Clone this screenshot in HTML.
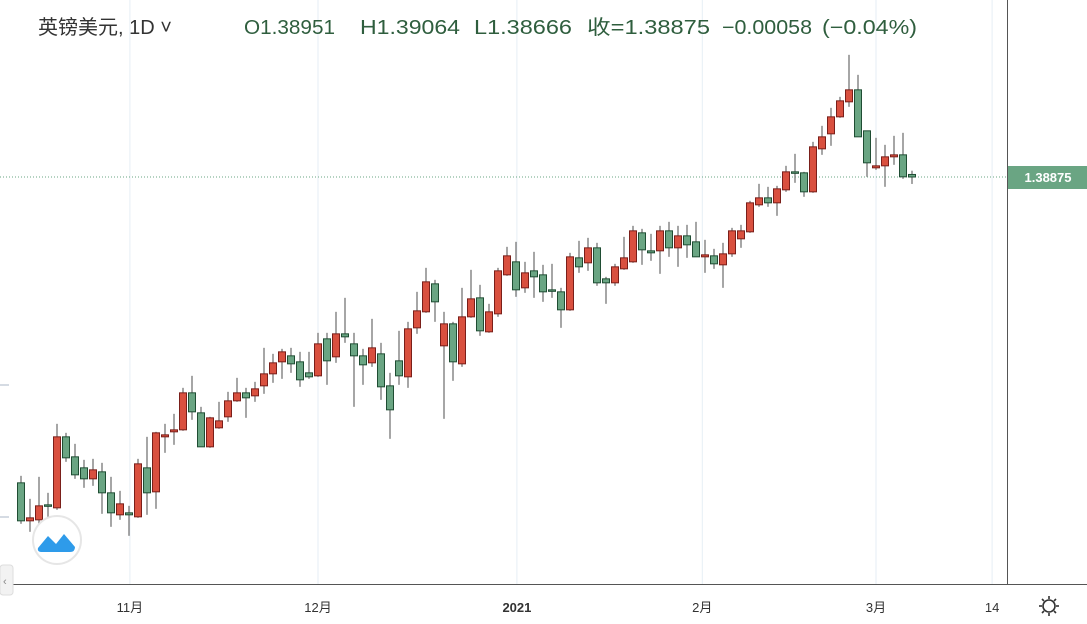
<!DOCTYPE html>
<html><head><meta charset="utf-8"><style>
body{margin:0;background:#fff;font-family:"Liberation Sans","Noto Sans CJK SC",sans-serif;}
#wrap{position:relative;width:1087px;height:624px;overflow:hidden}
svg text{font-family:"Liberation Sans","Noto Sans CJK SC",sans-serif}
</style></head><body>
<div id="wrap">
<svg id="chart" width="1087" height="624"></svg>
</div>
<script>
const opens=[1.2970,1.2856,1.2859,1.2904,1.2895,1.3108,1.3048,1.3015,1.2982,1.3003,1.2940,1.2874,1.2880,1.2868,1.3015,1.2943,1.3108,1.3123,1.3129,1.3240,1.3180,1.3078,1.3135,1.3168,1.3216,1.3240,1.3231,1.3261,1.3297,1.3333,1.3351,1.3333,1.3300,1.3291,1.3402,1.3348,1.3417,1.3387,1.3351,1.3330,1.3357,1.3261,1.3336,1.3288,1.3435,1.3483,1.3567,1.3381,1.3447,1.3327,1.3468,1.3525,1.3423,1.3477,1.3594,1.3633,1.3555,1.3606,1.3594,1.3549,1.3543,1.3489,1.3645,1.3630,1.3675,1.3582,1.3570,1.3612,1.3633,1.3720,1.3666,1.3666,1.3726,1.3675,1.3711,1.3693,1.3648,1.3651,1.3624,1.3657,1.3702,1.3723,1.3804,1.3825,1.3810,1.3849,1.3903,1.3900,1.3843,1.3972,1.4017,1.4068,1.4113,1.4149,1.4026,1.3915,1.3921,1.3948,1.3954,1.38951];
const highs=[1.2991,1.2922,1.2988,1.2940,1.3147,1.3120,1.3087,1.3039,1.3042,1.3030,1.2988,1.2946,1.2901,1.3042,1.3108,1.3123,1.3147,1.3177,1.3255,1.3291,1.3198,1.3168,1.3213,1.3243,1.3285,1.3255,1.3273,1.3375,1.3357,1.3372,1.3375,1.3363,1.3363,1.3420,1.3420,1.3483,1.3525,1.3420,1.3372,1.3462,1.3390,1.3300,1.3426,1.3453,1.3543,1.3615,1.3579,1.3483,1.3453,1.3555,1.3609,1.3564,1.3507,1.3615,1.3678,1.3693,1.3633,1.3663,1.3624,1.3627,1.3555,1.3660,1.3696,1.3705,1.3690,1.3588,1.3627,1.3708,1.3741,1.3732,1.3717,1.3741,1.3753,1.3741,1.3744,1.3753,1.3699,1.3672,1.3690,1.3735,1.3744,1.3816,1.3867,1.3858,1.3861,1.3921,1.3957,1.3903,1.3993,1.4041,1.4095,1.4128,1.4254,1.4194,1.4026,1.4005,1.3984,1.4011,1.4020,1.39064];
const lows=[1.2847,1.2823,1.2844,1.2868,1.2889,1.3033,1.2982,1.2955,1.2961,1.2877,1.2838,1.2859,1.2811,1.2865,1.2874,1.2892,1.3060,1.3084,1.3126,1.3159,1.3078,1.3075,1.3132,1.3153,1.3213,1.3165,1.3213,1.3237,1.3270,1.3282,1.3300,1.3258,1.3282,1.3288,1.3264,1.3330,1.3390,1.3198,1.3264,1.3318,1.3219,1.3102,1.3264,1.3255,1.3417,1.3480,1.3453,1.3162,1.3276,1.3318,1.3465,1.3411,1.3420,1.3468,1.3591,1.3528,1.3540,1.3525,1.3513,1.3525,1.3435,1.3486,1.3600,1.3606,1.3561,1.3507,1.3561,1.3609,1.3630,1.3624,1.3636,1.3597,1.3648,1.3618,1.3645,1.3648,1.3600,1.3612,1.3555,1.3648,1.3675,1.3720,1.3798,1.3798,1.3771,1.3843,1.3870,1.3828,1.3840,1.3954,1.3981,1.4065,1.4098,1.4008,1.3888,1.3909,1.3858,1.3924,1.3882,1.38666];
const closes=[1.2856,1.2865,1.2901,1.2901,1.3108,1.3045,1.2994,1.2982,1.3009,1.2940,1.2880,1.2907,1.2874,1.3027,1.2940,1.3120,1.3114,1.3129,1.3240,1.3183,1.3078,1.3165,1.3156,1.3216,1.3240,1.3225,1.3252,1.3297,1.3330,1.3363,1.3327,1.3279,1.3288,1.3387,1.3336,1.3417,1.3408,1.3351,1.3324,1.3375,1.3258,1.3189,1.3291,1.3432,1.3486,1.3573,1.3513,1.3447,1.3333,1.3468,1.3522,1.3426,1.3483,1.3606,1.3651,1.3549,1.3600,1.3588,1.3543,1.3546,1.3489,1.3648,1.3618,1.3675,1.3570,1.3570,1.3618,1.3645,1.3726,1.3669,1.3660,1.3726,1.3675,1.3711,1.3684,1.3648,1.3654,1.3627,1.3657,1.3726,1.3726,1.3810,1.3825,1.3810,1.3852,1.3903,1.3900,1.3843,1.3978,1.4008,1.4068,1.4116,1.4149,1.4008,1.3930,1.3921,1.3948,1.3954,1.3888,1.38875];
const xLabels=["11月","12月","2021","2月","3月","14"];
const xLabelIdx=[12.1,33,55.1,75.7,95,107.9];
const lastPrice="1.38875";

const NS="http://www.w3.org/2000/svg";
const svg=document.getElementById('chart');
const X0=21,STEP=9;
const xs=i=>X0+STEP*i;
const ys=p=>(1.44185-p)/0.0003;
function mk(tag,attrs,parent){const e=document.createElementNS(NS,tag);for(const k in attrs)e.setAttribute(k,attrs[k]);(parent||svg).appendChild(e);return e;}

const grid=mk('g',{});


xLabelIdx.forEach((v,i)=>{const l=mk('line',{x1:xs(v),x2:xs(v),y1:0,y2:584,stroke:'#e6eef5','stroke-width':1},grid);

});
[385,517].forEach(y=>{const t=mk('line',{x1:0,x2:9,y1:y,y2:y,stroke:'#d5dbe3','stroke-width':2});

});

const pl=mk('line',{x1:0,x2:1007,y1:ys(closes[closes.length-1]),y2:ys(closes[closes.length-1]),stroke:'#6aa583','stroke-width':1,'stroke-dasharray':'1,2'});



const cg=mk('g',{});


opens.forEach((o,i)=>{
  const c=closes[i],up=c>=o;const x=xs(i);
  const g=mk('g',{},cg);
  
  
  mk('line',{x1:x,x2:x,y1:ys(highs[i]),y2:ys(lows[i]),stroke:'#777','stroke-width':1.3},g);
  const top=ys(Math.max(o,c)),bot=ys(Math.min(o,c));
  mk('rect',{x:x-3.5,y:top,width:7,height:Math.max(1.5,bot-top),fill:up?'#d9503f':'#6aa583',stroke:up?'#7a1f1a':'#1f4d33','stroke-width':1},g);
});

const ax=mk('g',{});


mk('line',{x1:0,x2:1087,y1:584.5,y2:584.5,stroke:'#555','stroke-width':1},ax);
xLabels.forEach((t,i)=>{const tx=mk('text',{x:xs(xLabelIdx[i]),y:612,'text-anchor':'middle','font-size':13,fill:'#333','font-weight':t==='2021'?'bold':'normal'},ax);tx.textContent=t;

});
const yax=mk('line',{x1:1007.5,x2:1007.5,y1:0,y2:584,stroke:'#555','stroke-width':1});



const pg=mk('g',{});


const ly=ys(closes[closes.length-1]);
mk('rect',{x:1008,y:ly-11,width:79,height:23,fill:'#6aa583'},pg);
const pt=mk('text',{x:1048,y:ly+5,'text-anchor':'middle','font-size':13,fill:'#fff','font-weight':'bold'},pg);pt.textContent=lastPrice;
</script>
<svg style="position:absolute;left:0;top:0" width="1087" height="624">
<text x="38" y="34" font-size="20" fill="#333">英镑美元, 1D ˅</text>
<g font-size="20" fill="#2f5e3e">
<text x="244" y="34" textLength="91" lengthAdjust="spacingAndGlyphs" fill="#2f5e3e">O1.38951</text>
<text x="360" y="34" textLength="100" lengthAdjust="spacingAndGlyphs">H1.39064</text>
<text x="474" y="34" textLength="98" lengthAdjust="spacingAndGlyphs">L1.38666</text>
<text x="587" y="34" textLength="123" lengthAdjust="spacingAndGlyphs">收=1.38875</text>
<text x="722" y="34" textLength="90" lengthAdjust="spacingAndGlyphs">−0.00058</text>
<text x="822" y="34" textLength="95" lengthAdjust="spacingAndGlyphs">(−0.04%)</text>
</g>
<g>
<circle cx="57" cy="540" r="24" fill="#fff" stroke="#e6e6e6" stroke-width="2"/>
<path d="M38 548 L48 536 L56 544 L64 534 L75 547 Q75 552 70 552 L42 552 Q37 552 38 548Z" fill="#2e9bea"/>
</g>
<g><rect x="0" y="565" width="13" height="30" rx="3" fill="#f2f2f2" stroke="#ddd"/><text x="3" y="585" font-size="11" fill="#888">‹</text></g>
<g transform="translate(1049,606)" stroke="#333" stroke-width="1.6" fill="none">
<circle r="6"/><line x1="0" y1="-10" x2="0" y2="-7"/><line x1="0" y1="7" x2="0" y2="10"/><line x1="-10" y1="0" x2="-7" y2="0"/><line x1="7" y1="0" x2="10" y2="0"/><line x1="-7" y1="-7" x2="-5" y2="-5"/><line x1="5" y1="5" x2="7" y2="7"/><line x1="-7" y1="7" x2="-5" y2="5"/><line x1="5" y1="-5" x2="7" y2="-7"/>
</g>
</svg>
</body></html>
